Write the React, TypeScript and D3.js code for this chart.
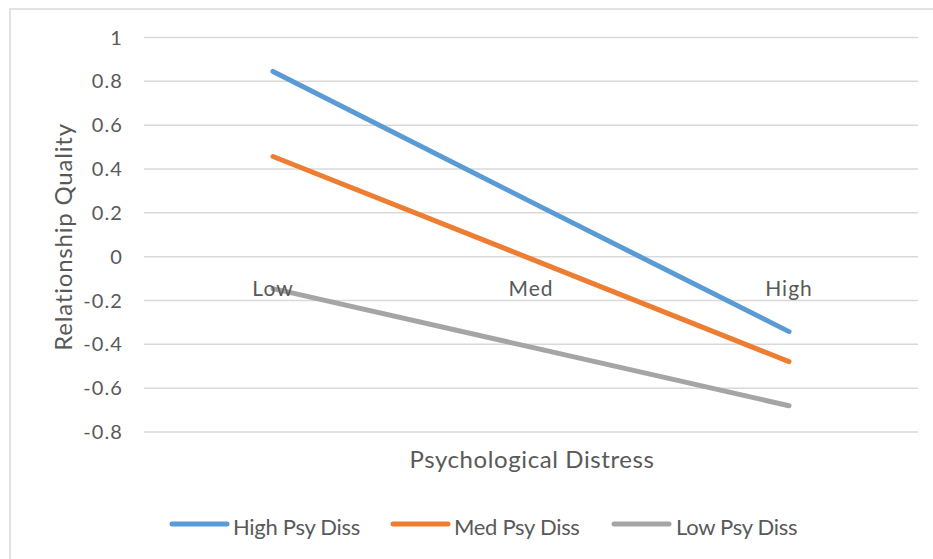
import React from "react";
import * as d3 from "d3";

const categories = ["Low", "Med", "High"];
const seriesNames = ["High Psy Diss", "Med Psy Diss", "Low Psy Diss"];
const highPsyDiss = [0.845, 0.25, -0.342];
const medPsyDiss = [0.457, -0.01, -0.479];
const lowPsyDiss = [-0.146, -0.413, -0.68];
const yTicks = [1, 0.8, 0.6, 0.4, 0.2, 0, -0.2, -0.4, -0.6, -0.8];
const colors = ["#5B9BD5", "#ED7D31", "#A5A5A5"];

const W = 933;
const H = 559;
const FONT = "Lato, 'Open Sans', sans-serif";
const TXT = "#595959";

export default function App() {
  const plotLeft = 144;
  const plotRight = 918;
  const x = d3.scaleBand<string>().domain(categories).range([plotLeft, plotRight]);
  const y = d3.scaleLinear().domain([-0.8, 1]).range([432, 37.5]);
  const allSeries = [highPsyDiss, medPsyDiss, lowPsyDiss];
  const line = d3
    .line<number>()
    .x((_, i) => (x(categories[i]) as number) + x.bandwidth() / 2)
    .y((d) => y(d));

  const legendItems = [
    { x: 172, textX: 233 },
    { x: 393, textX: 454 },
    { x: 614, textX: 676 },
  ];

  return (
    <svg
      width={W}
      height={H}
      style={{ position: "absolute", left: 0, top: 0, background: "#fff" }}
      fontFamily={FONT}
    >
      <rect x={0} y={0} width={W} height={H} fill="#fff" />
      <rect x={10} y={9} width={W + 10} height={H + 10} fill="none" stroke="#D9D9D9" strokeWidth={1.5} />
      {yTicks.map((t) => (
        <g key={t}>
          <line x1={plotLeft} x2={plotRight} y1={y(t)} y2={y(t)} stroke="#D9D9D9" strokeWidth={1.5} />
          <text
            x={123}
            y={y(t) + 7}
            textAnchor="end"
            fontSize={20}
            letterSpacing={1.1}
            fill={TXT}
          >
            {String(t)}
          </text>
        </g>
      ))}
      {allSeries.map((s, i) => (
        <path
          key={seriesNames[i]}
          d={line(s) || ""}
          fill="none"
          stroke={colors[i]}
          strokeWidth={5}
          strokeLinecap="round"
        />
      ))}
      {categories.map((c) => (
        <text
          key={c}
          x={(x(c) as number) + x.bandwidth() / 2}
          y={296}
          textAnchor="middle"
          fontSize={21}
          letterSpacing={1}
          fill={TXT}
        >
          {c}
        </text>
      ))}
      <text
        transform={`translate(72, 237) rotate(-90)`}
        textAnchor="middle"
        fontSize={24}
        letterSpacing={0.8}
        fill={TXT}
      >
        Relationship Quality
      </text>
      <text x={532} y={468} textAnchor="middle" fontSize={24} letterSpacing={0.6} fill={TXT}>
        Psychological Distress
      </text>
      {legendItems.map((l, i) => (
        <g key={seriesNames[i]}>
          <line x1={l.x} x2={l.x + 55} y1={524} y2={524} stroke={colors[i]} strokeWidth={5} strokeLinecap="round" />
          <text x={l.textX} y={535} fontSize={22} letterSpacing={-0.3} fill={TXT}>
            {seriesNames[i]}
          </text>
        </g>
      ))}
    </svg>
  );
}
